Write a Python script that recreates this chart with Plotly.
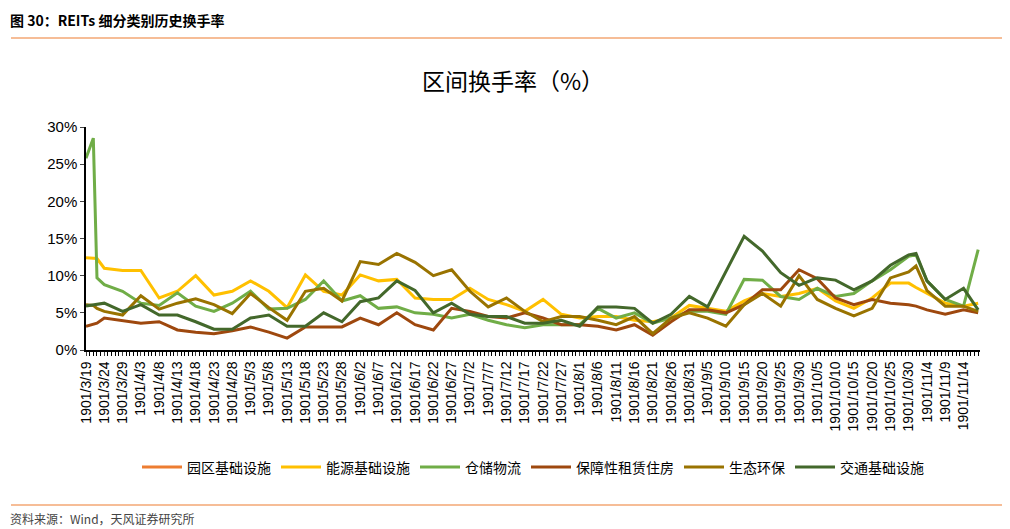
import plotly.graph_objects as go
import pandas as pd

# sample dates (5-day steps plus a few extra points around sharp moves)
dates = ["1901-03-19", "1901-03-21", "1901-03-22", "1901-03-24", "1901-03-29", "1901-04-03", "1901-04-08",
         "1901-04-13", "1901-04-18", "1901-04-23", "1901-04-28", "1901-05-03", "1901-05-08", "1901-05-13",
         "1901-05-18", "1901-05-23", "1901-05-28", "1901-06-02", "1901-06-07", "1901-06-12", "1901-06-17",
         "1901-06-22", "1901-06-27", "1901-07-02", "1901-07-07", "1901-07-12", "1901-07-17", "1901-07-22",
         "1901-07-27", "1901-08-01", "1901-08-06", "1901-08-11", "1901-08-16", "1901-08-21", "1901-08-26",
         "1901-08-31", "1901-09-05", "1901-09-10", "1901-09-15", "1901-09-20", "1901-09-25", "1901-09-30",
         "1901-10-05", "1901-10-10", "1901-10-15", "1901-10-20", "1901-10-25", "1901-10-30", "1901-11-01",
         "1901-11-04", "1901-11-09", "1901-11-14", "1901-11-18"]

yuanqu = [None]  # 园区基础设施: not visible in the chart, legend only
nengyuan = [12.4, 12.4, 12.3, 11.0, 10.7, 10.7, 7.0, 7.9, 10.0, 7.4, 7.9, 9.3, 7.9, 5.7,
            10.1, 7.9, 7.4, 10.1, 9.3, 9.5, 7.0, 6.8, 6.8, 8.3, 6.8, 6.1, 5.2, 6.8,
            4.8, 4.3, 4.5, 4.5, 4.0, 3.8, 4.3, 6.0, 5.6, 5.2, 6.6, 7.6, 7.2, 7.6,
            8.3, 6.6, 5.6, 7.0, 9.0, 9.0, 8.4, 7.6, 6.3, 5.9, 6.3]
cangchu = [25.8, 28.5, 9.7, 8.8, 7.9, 6.3, 6.0, 7.7, 5.9, 5.2, 6.3, 7.9, 5.5, 5.6,
           6.8, 9.3, 6.6, 7.3, 5.6, 5.8, 5.0, 4.8, 4.3, 4.8, 4.0, 3.4, 3.0, 3.4,
           3.4, 3.4, 5.6, 4.3, 5.0, 3.6, 4.3, 5.2, 5.2, 4.8, 9.5, 9.4, 7.2, 6.8,
           8.3, 7.2, 7.6, 9.3, 10.8, 12.6, 12.8, 9.3, 6.8, 5.9, 13.5]
baozhang = [3.2, 3.5, 3.6, 4.3, 3.9, 3.6, 3.8, 2.7, 2.4, 2.2, 2.6, 3.1, 2.4, 1.6,
            3.1, 3.1, 3.1, 4.3, 3.4, 5.0, 3.4, 2.7, 5.6, 5.2, 4.5, 4.3, 5.0, 4.3,
            3.4, 3.4, 3.2, 2.7, 3.4, 2.0, 3.8, 5.4, 5.4, 5.0, 6.1, 8.1, 8.1, 10.8,
            9.6, 7.0, 6.1, 6.8, 6.3, 6.1, 5.9, 5.4, 4.8, 5.4, 5.0]
shengtai = [6.1, 6.0, 5.6, 5.2, 4.7, 7.3, 5.5, 6.3, 6.9, 6.1, 4.9, 7.6, 5.7, 4.0,
            7.9, 8.3, 6.6, 11.9, 11.5, 13.0, 11.8, 10.0, 10.8, 7.9, 5.8, 7.0, 5.2, 3.8,
            4.5, 4.5, 4.0, 3.4, 4.5, 2.2, 4.3, 5.0, 4.3, 3.2, 6.1, 7.6, 5.9, 10.0,
            6.8, 5.6, 4.6, 5.6, 9.7, 10.5, 11.3, 8.0, 5.9, 5.9, 5.2]
jiaotong = [5.9, 6.1, 6.2, 6.3, 5.2, 6.1, 4.7, 4.7, 3.8, 2.8, 2.8, 4.3, 4.7, 3.2,
            3.2, 5.0, 3.8, 6.5, 7.0, 9.3, 8.0, 5.0, 6.3, 4.8, 4.5, 4.5, 3.6, 3.6,
            4.0, 3.2, 5.8, 5.8, 5.6, 3.6, 4.8, 7.2, 5.8, 10.6, 15.3, 13.3, 10.4, 8.7,
            9.7, 9.4, 8.1, 9.3, 11.4, 12.8, 13.0, 9.3, 6.8, 8.3, 5.4]

names = ["园区基础设施", "能源基础设施", "仓储物流", "保障性租赁住房", "生态环保", "交通基础设施"]
series = [yuanqu, nengyuan, cangchu, baozhang, shengtai, jiaotong]
colors = ["#ED7D31", "#FFC000", "#70AD47", "#9E480E", "#997300", "#43682B"]

x = pd.to_datetime(dates)
fig = go.Figure()
for name, vals, color in zip(names, series, colors):
    fig.add_trace(go.Scatter(x=x[:len(vals)], y=vals, name=name, mode="lines",
                             line=dict(color=color, width=3), showlegend=True))

font = "Noto Sans CJK SC"
fig.update_layout(
    width=1010, height=529,
    paper_bgcolor="white", plot_bgcolor="white",
    font=dict(family=font, color="black", size=13),
    margin=dict(l=78, r=38, t=119, b=187),
    showlegend=True,
    legend=dict(orientation="h", x=0.5, xanchor="center", y=-0.455, yanchor="top",
                font=dict(size=14), itemwidth=40),
    title=dict(text="区间换手率（%）", x=0.5, xanchor="center", y=0.86, yanchor="middle",
               font=dict(size=23, family=font)),
    xaxis=dict(type="date", range=["1901-03-19", "1901-11-18 12:00"],
               tick0="1901-03-19", dtick=5 * 86400000, tickformat="%Y/%-m/%-d",
               tickangle=-90, tickfont=dict(size=14, family="Liberation Sans"),
               showline=True, linecolor="black", linewidth=1.5, ticks="outside", ticklen=4,
               showgrid=False, zeroline=False,
               minor=dict(dtick=86400000, ticks="outside", ticklen=4, tickcolor="black", showgrid=False)),
    yaxis=dict(range=[0, 30], dtick=5, ticksuffix="%", showgrid=False, zeroline=False,
               showline=True, linecolor="black", linewidth=1.5, ticks="outside", ticklen=4,
               tickfont=dict(size=15, family="Liberation Sans")),
)

fig.add_annotation(text="<b>图 30：REITs 细分类别历史换手率</b>", xref="paper", yref="paper",
                   x=-78 / 894, y=1 + 107 / 223, xanchor="left", yanchor="middle", showarrow=False,
                   font=dict(size=14, family=font))
fig.add_annotation(text="资料来源：Wind，天风证券研究所", xref="paper", yref="paper",
                   x=-78 / 894, y=-168 / 223, xanchor="left", yanchor="middle", showarrow=False,
                   font=dict(size=12, family=font, color="#444"))
for yp in [1 + 89 / 223, -155 / 223]:
    fig.add_shape(type="line", xref="paper", yref="paper", x0=-75 / 894, x1=1 + 30 / 894,
                  y0=yp, y1=yp, line=dict(color="#ED7D31", width=1.2))

fig.write_html("out.html")
